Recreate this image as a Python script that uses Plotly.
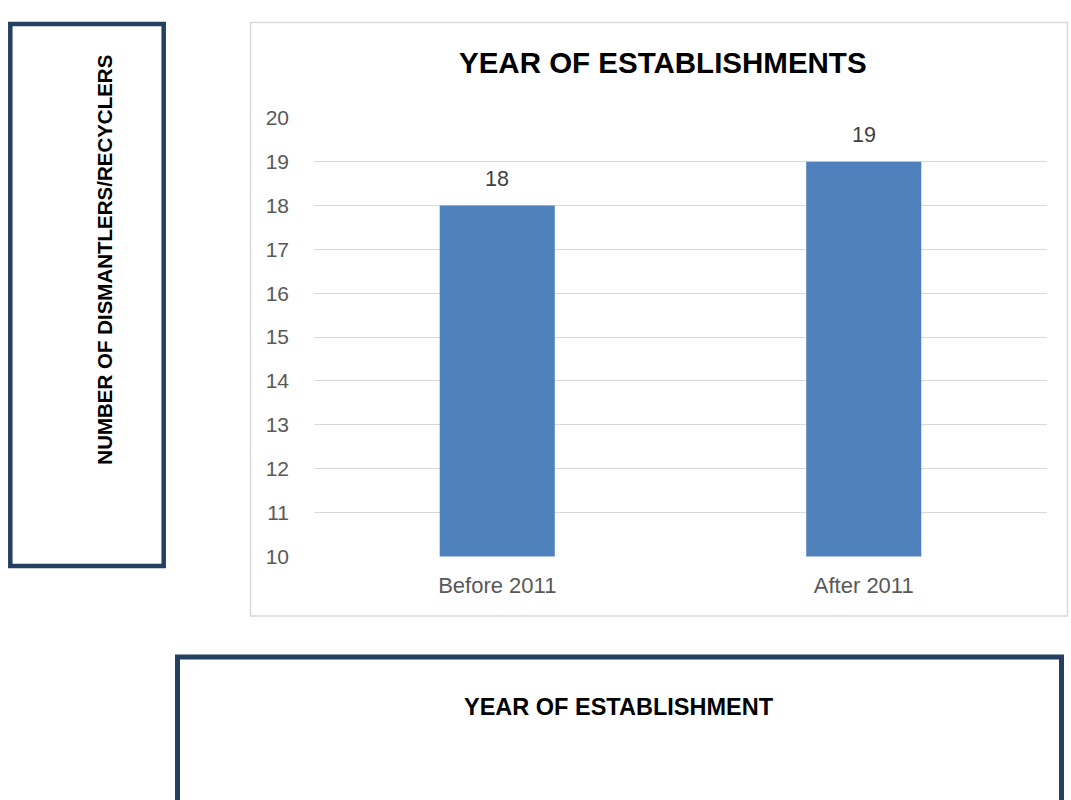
import plotly.graph_objects as go

categories = ["Before 2011", "After 2011"]
counts = [18, 19]
y_ticks = [10, 11, 12, 13, 14, 15, 16, 17, 18, 19, 20]

W, H = 1071, 800
FONT = "Liberation Sans, Arial, sans-serif"

def px(x):
    return x / W

def py(y):
    return 1 - y / H

fig = go.Figure()
fig.add_trace(go.Bar(
    x=categories, y=counts,
    marker=dict(color="#4F81BD", line=dict(width=0)),
    hoverinfo="x+y",
))

label_annotations = [
    dict(x=c, y=v, xref="x", yref="y", text=str(v), showarrow=False,
         xanchor="center", yanchor="middle", yshift=27,
         font=dict(family=FONT, size=21.5, color="#404040"))
    for c, v in zip(categories, counts)
]

fig.update_layout(
    width=W, height=H,
    margin=dict(l=0, r=0, t=0, b=0),
    paper_bgcolor="white", plot_bgcolor="white",
    showlegend=False,
    bargap=0.686,
    font=dict(family=FONT, color="#595959"),
    xaxis=dict(domain=[px(314), px(1047)], showgrid=False, zeroline=False,
               showline=False, ticks="", tickfont=dict(size=22, color="#595959"),
               ticklabelstandoff=14),
    yaxis=dict(domain=[py(560.5), py(109)], range=[10, 20], tickvals=y_ticks,
               showgrid=True, gridcolor="#D9D9D9", gridwidth=1.4, zeroline=False,
               showline=False, ticks="", tickfont=dict(size=21, color="#595959"),
               ticklabelstandoff=24),
    shapes=[
        # left y-title box
        dict(type="rect", xref="paper", yref="paper", x0=px(10.3), x1=px(163.7), y0=py(12.3), y1=py(570.5),
             line=dict(color="#243F60", width=4.5), fillcolor="rgba(0,0,0,0)", layer="above"),
        # chart area border
        dict(type="rect", xref="paper", yref="paper", x0=px(250.5), x1=px(1067.5), y0=py(10.7), y1=py(621.8),
             line=dict(color="#D9D9D9", width=1.5), fillcolor="rgba(0,0,0,0)", layer="below"),
        # bottom x-title box
        dict(type="rect", xref="paper", yref="paper", x0=px(177.5), x1=px(1061.5), y0=py(664.2), y1=py(830),
             line=dict(color="#243F60", width=5), fillcolor="rgba(0,0,0,0)", layer="above"),
    ],
    annotations=label_annotations + [
        dict(text="<b>YEAR OF ESTABLISHMENTS</b>", xref="paper", yref="paper",
             x=px(662.5), y=py(52.5), showarrow=False, xanchor="center", yanchor="middle",
             font=dict(family=FONT, size=29.5, color="#000000")),
        dict(text="<b>NUMBER OF DISMANTLERS/RECYCLERS</b>", xref="paper", yref="paper",
             x=px(105), y=py(255), showarrow=False, xanchor="center", yanchor="middle",
             textangle=-90, font=dict(family=FONT, size=20.5, color="#000000")),
        dict(text="<b>YEAR OF ESTABLISHMENT</b>", xref="paper", yref="paper",
             x=px(619), y=py(715.5), showarrow=False, xanchor="center", yanchor="middle",
             font=dict(family=FONT, size=23.5, color="#000000")),
    ],
)

fig.write_html(
    "out.html",
    config={"displayModeBar": False},
    post_script="document.body.style.margin='0';document.body.style.overflow='hidden';",
)
